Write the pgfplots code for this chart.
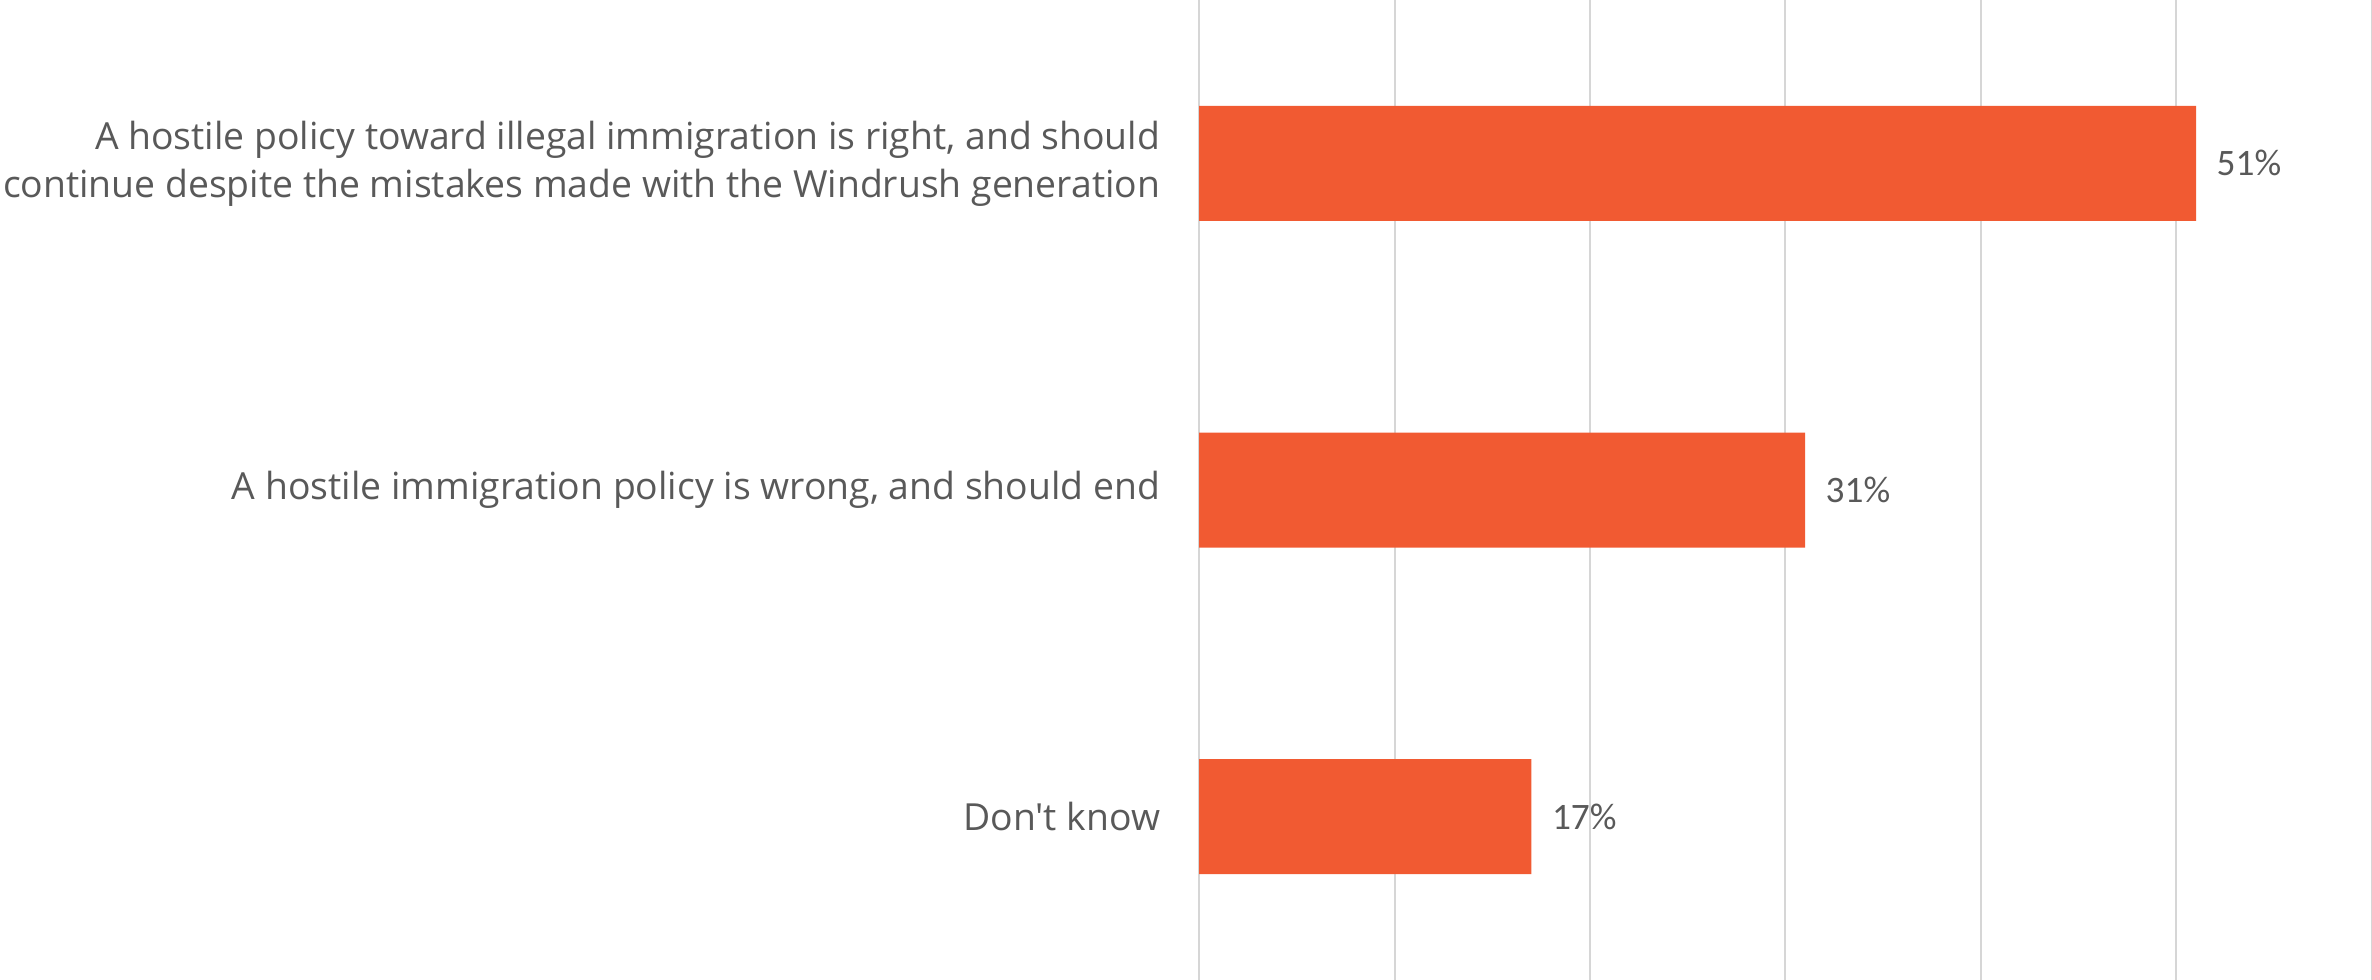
\documentclass[border=0pt]{standalone}
\usepackage{fontspec}
\setmainfont{Open Sans}[Ligatures=TeXOff]
\newfontfamily\carlito{Carlito}
\usepackage{pgfplots}
\pgfplotsset{compat=1.18}
\definecolor{barc}{HTML}{F15A32}
\definecolor{txt}{HTML}{595959}
\definecolor{gridc}{HTML}{D6D6D6}
\begin{document}
\begin{tikzpicture}
\useasboundingbox (0,0) rectangle (711.6pt,294pt);
\begin{axis}[
  at={(359.7pt,0pt)}, anchor=south west,
  scale only axis, width=351.9pt, height=294pt,
  xmin=0, xmax=60, ymin=-0.5, ymax=2.5,
  y dir=reverse,
  xbar, bar width=34.5pt,
  /pgf/number format/assume math mode=true,
  xtick={0,10,...,60}, xticklabels={},
  xmajorgrids, grid style={gridc, line width=0.6pt},
  axis line style={draw=none},
  tick style={draw=none},
  ytick={0,1,2},
  yticklabels={{A hostile policy toward illegal immigration is right, and should\\continue despite the mistakes made with the Windrush generation},{A hostile immigration policy is wrong, and should end},{Don't know}},
  yticklabel style={align=right, inner sep=0pt, xshift=-7.2pt, text=txt, font=\fontsize{11.2}{14.4}\selectfont},
  nodes near coords={\pgfmathprintnumber{\pgfplotspointmeta}\%},
  nodes near coords style={anchor=west, inner sep=0pt, xshift=6pt, text=txt, font=\carlito\fontsize{11.2}{14.4}\selectfont},
  clip=false,
]
\addplot[fill=barc, draw=none] coordinates {(51,0) (31,1) (17,2)};
\end{axis}
\end{tikzpicture}
\end{document}
